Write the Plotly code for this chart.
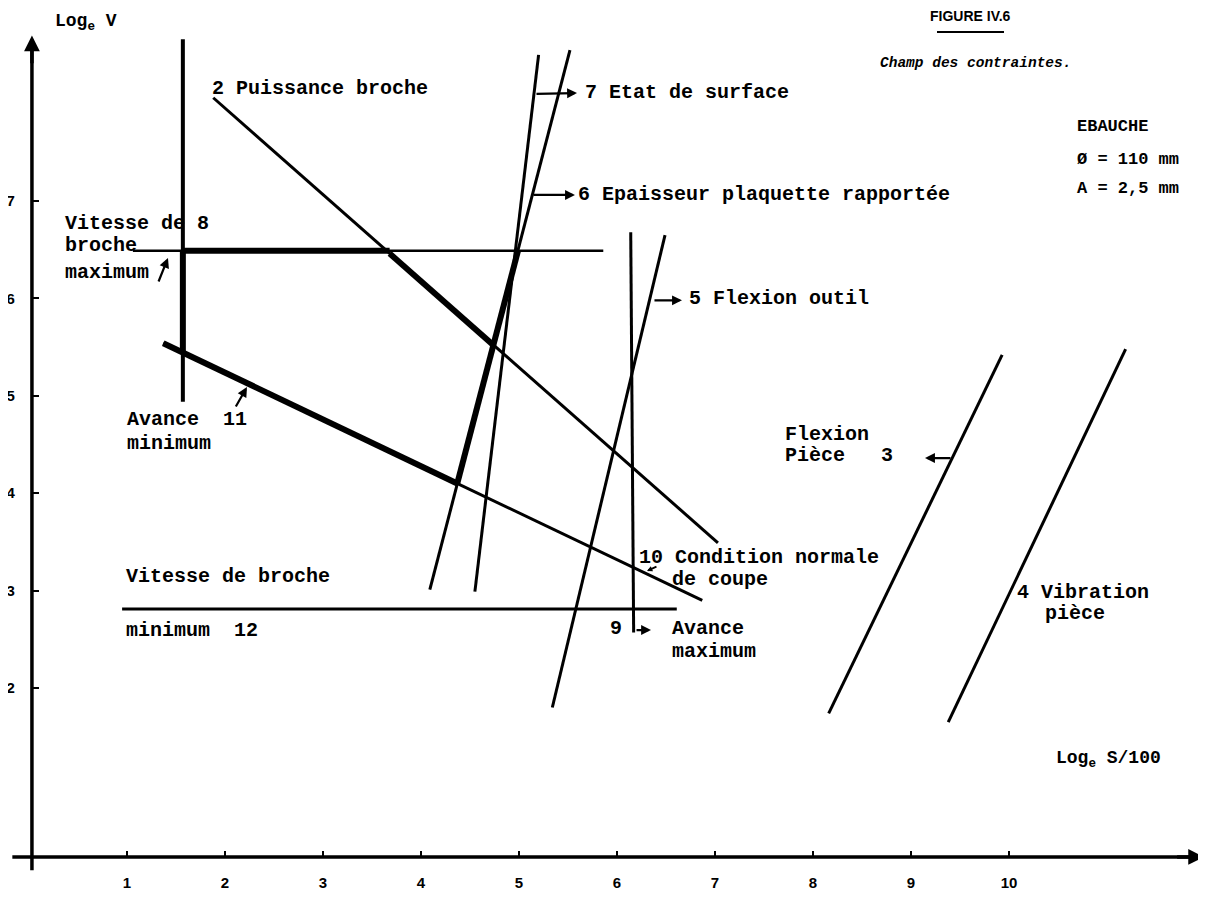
import plotly.graph_objects as go

# ---------------- data (constraint lines, in Log_e S/100 , Log_e V units) ----------------
x_tick_vals = [1, 2, 3, 4, 5, 6, 7, 8, 9, 10]
y_tick_vals = [2, 3, 4, 5, 6, 7]

# 2 Puissance broche
c2_x = [1.88, 7.03]
c2_y = [8.06, 3.49]
c2_thick_x = [3.68, 4.74]
c2_thick_y = [6.46, 5.52]
# 3 Flexion pièce
c3_x = [8.16, 9.93]
c3_y = [1.74, 5.42]
# 4 Vibration pièce
c4_x = [9.38, 11.19]
c4_y = [1.65, 5.48]
# 5 Flexion outil
c5_x = [5.34, 6.49]
c5_y = [1.80, 6.65]
# 6 Epaisseur plaquette rapportée
c6_x = [4.09, 5.52]
c6_y = [3.01, 8.55]
c6_thick_x = [4.37, 4.99]
c6_thick_y = [4.10, 6.49]
# 7 Etat de surface
c7_x = [4.55, 5.20]
c7_y = [2.99, 8.50]
# 8 Vitesse de broche maximum
c8_x = [1.06, 5.86]
c8_y = [6.49, 6.49]
c8_thick_x = [1.57, 3.68]
c8_thick_y = [6.49, 6.49]
# 9 Avance maximum
c9_x = [6.14, 6.17]
c9_y = [6.68, 2.57]
# Avance minimum (vertical)
cam_x = [1.57, 1.57]
cam_y = [8.66, 4.94]
cam_thick_x = [1.57, 1.57]
cam_thick_y = [6.49, 5.44]
# 11 / 10 Condition normale de coupe
c11_x = [1.37, 6.87]
c11_y = [5.54, 2.90]
c11_thick_x = [1.37, 4.37]
c11_thick_y = [5.54, 4.10]
# 12 Vitesse de broche minimum
c12_x = [0.95, 6.61]
c12_y = [2.81, 2.81]

# axes (drawn as lines)
xaxis_line_x = [-0.17, 11.90]
xaxis_line_y = [0.265, 0.265]
yaxis_line_x = [0.03, 0.03]
yaxis_line_y = [0.13, 8.60]

# the page body has an 8px margin, so the figure is 8px smaller than the window
W, H = 1198, 907
X_RANGE = [-0.2143, 12.0102]
Y_RANGE = [-0.3306, 8.9815]

MONO = "Liberation Mono, DejaVu Sans Mono, monospace"
SANS = "Liberation Sans Narrow, Liberation Sans, Arial, sans-serif"

fig = go.Figure()


def seg(xs, ys, w):
    fig.add_trace(go.Scatter(x=xs, y=ys, mode="lines",
                             line=dict(color="black", width=w),
                             hoverinfo="skip", showlegend=False))


# axes lines
seg(xaxis_line_x, xaxis_line_y, 3.5)
seg(yaxis_line_x, yaxis_line_y, 3.5)

# thin constraint lines
for xs, ys, w in [(c2_x, c2_y, 3), (c3_x, c3_y, 3), (c4_x, c4_y, 3), (c5_x, c5_y, 3),
                  (c6_x, c6_y, 3), (c7_x, c7_y, 3), (c8_x, c8_y, 2.5), (c9_x, c9_y, 3),
                  (cam_x, cam_y, 4), (c11_x, c11_y, 3), (c12_x, c12_y, 3)]:
    seg(xs, ys, w)

# thick boundary of the feasible region
for xs, ys in [(c2_thick_x, c2_thick_y), (c6_thick_x, c6_thick_y), (c8_thick_x, c8_thick_y),
               (cam_thick_x, cam_thick_y), (c11_thick_x, c11_thick_y)]:
    seg(xs, ys, 6)

annotations = []


def txt(s, x, y, size=20, family=MONO, anchor="left", italic=False):
    if italic:
        s = "<i>" + s + "</i>"
    annotations.append(dict(text="<b>" + s + "</b>", x=x, y=y, xref="x", yref="y",
                            showarrow=False, xanchor=anchor, yanchor="middle",
                            font=dict(family=family, size=size, color="black")))


def arrow(x_head, y_head, x_tail, y_tail, w=2.2, size=0.9):
    annotations.append(dict(text="", x=x_head, y=y_head, ax=x_tail, ay=y_tail,
                            xref="x", yref="y", axref="x", ayref="y",
                            showarrow=True, arrowhead=2, arrowsize=size,
                            arrowwidth=w, arrowcolor="black"))


# titles / axis titles
txt("Log<sub>e</sub> V", 0.245, 8.83, size=18)
txt("Log<sub>e</sub> S/100", 10.459, 1.261, size=18)
txt("FIGURE IV.6", 9.602, 8.900, size=14, family="Liberation Sans, Arial, sans-serif", anchor="center")
txt("Champ des contraintes.", 8.663, 8.417, size=14.5, italic=True)
txt("EBAUCHE", 10.673, 7.760, size=17)
txt("Ø = 110 mm", 10.673, 7.421, size=17)
txt("A = 2,5 mm", 10.673, 7.133, size=17)

# labels of constraints
txt("2 Puissance broche", 1.847, 8.160)
txt("7 Etat de surface", 5.653, 8.119)
txt("6 Epaisseur plaquette rapportée", 5.582, 7.062)
txt("Vitesse de 8", 0.347, 6.774)
txt("broche", 0.347, 6.548)
txt("maximum", 0.347, 6.261)
txt("5 Flexion outil", 6.714, 6.004)
txt("Avance  11", 0.980, 4.752)
txt("minimum", 0.980, 4.515)
txt("Flexion", 7.694, 4.598)
txt("Pièce   3", 7.694, 4.392)
txt("10 Condition normale", 6.204, 3.345)
txt("de coupe", 6.541, 3.109)
txt("Vitesse de broche", 0.969, 3.140)
txt("minimum  12", 0.969, 2.595)
txt("9", 5.908, 2.616)
txt("Avance", 6.541, 2.616)
txt("maximum", 6.541, 2.370)
txt("4 Vibration", 10.061, 2.985)
txt("pièce", 10.347, 2.770)

# pointer arrows
arrow(5.592, 8.109, 5.163, 8.099)   # 7
arrow(5.571, 7.062, 5.133, 7.062)   # 6
arrow(6.663, 5.98, 6.367, 5.98)     # 5
arrow(9.143, 4.361, 9.418, 4.361)   # 3
arrow(6.347, 2.595, 6.184, 2.595)   # 9
arrow(2.224, 5.090, 2.102, 4.875)   # 11
arrow(1.418, 6.415, 1.316, 6.158)   # 8
arrow(6.306, 3.201, 6.418, 3.253, w=1.8, size=0.6)  # 10
# axis arrowheads
arrow(0.03, 8.70, 0.03, 8.40, w=3.5, size=0.9)
arrow(11.99, 0.265, 11.7, 0.265, w=3.5, size=0.9)

# underline of figure title (paper coords)
shapes = [dict(type="line", xref="paper", yref="paper",
               x0=929 / W, x1=996 / W, y0=1 - 24 / H, y1=1 - 24 / H,
               line=dict(color="black", width=2))]

tick_font = dict(family=SANS, size=15, color="black")

fig.update_layout(
    width=W, height=H,
    margin=dict(l=0, r=0, t=0, b=0),
    paper_bgcolor="white", plot_bgcolor="white",
    showlegend=False,
    annotations=annotations,
    shapes=shapes,
    xaxis=dict(range=X_RANGE, anchor="free", position=(0.265 - Y_RANGE[0]) / (Y_RANGE[1] - Y_RANGE[0]),
               tickvals=x_tick_vals, ticktext=["<b>%d</b>" % v for v in x_tick_vals],
               ticks="inside", ticklen=6, tickwidth=2, tickcolor="black",
               showline=False, showgrid=False, zeroline=False, automargin=False,
               ticklabelstandoff=15, tickfont=tick_font),
    yaxis=dict(range=Y_RANGE, anchor="free", position=(0.03 - X_RANGE[0]) / (X_RANGE[1] - X_RANGE[0]),
               tickvals=y_tick_vals, ticktext=["<b>%d</b>" % v for v in y_tick_vals],
               ticks="inside", ticklen=6, tickwidth=2, tickcolor="black",
               showline=False, showgrid=False, zeroline=False, automargin=False,
               ticklabelstandoff=17, tickfont=tick_font),
)

fig.write_html("out.html")
